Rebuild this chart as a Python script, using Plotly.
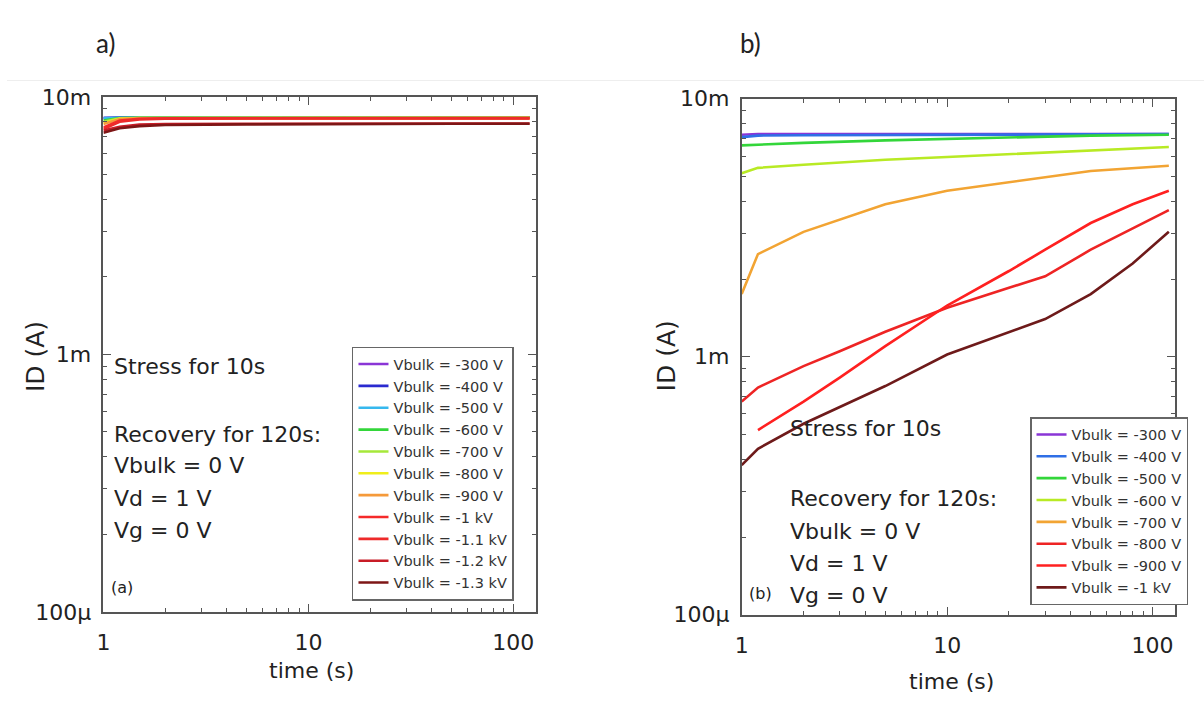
import plotly.graph_objects as go

W, H = 1204, 702
FONT = "DejaVu Sans"

# ---------------- panel (a): stress for 10 s, Vbulk from -300 V to -1.3 kV ----------------
labels_a = ["Vbulk = -300 V", "Vbulk = -400 V", "Vbulk = -500 V", "Vbulk = -600 V",
            "Vbulk = -700 V", "Vbulk = -800 V", "Vbulk = -900 V", "Vbulk = -1 kV",
            "Vbulk = -1.1 kV", "Vbulk = -1.2 kV", "Vbulk = -1.3 kV"]
colors_a = ["#8a35d6", "#2a2ad0", "#36b8ee", "#33d63a", "#a6e83a", "#f0ee1a",
            "#f59a3a", "#f52a2a", "#ee2a2a", "#c81c26", "#7e1616"]
time_a = [1, 1.2, 1.5, 2, 5, 10, 20, 50, 120]
# drain current in mA
id_a_300 = [8.30, 8.32, 8.32, 8.32, 8.32, 8.32, 8.32, 8.32, 8.32]
id_a_400 = [8.25, 8.31, 8.31, 8.31, 8.31, 8.31, 8.31, 8.31, 8.31]
id_a_500 = [8.28, 8.32, 8.32, 8.32, 8.32, 8.32, 8.32, 8.32, 8.32]
id_a_600 = [8.10, 8.28, 8.30, 8.30, 8.30, 8.30, 8.30, 8.30, 8.30]
id_a_700 = [8.00, 8.25, 8.28, 8.28, 8.29, 8.29, 8.29, 8.29, 8.29]
id_a_800 = [7.90, 8.22, 8.27, 8.28, 8.28, 8.28, 8.28, 8.28, 8.28]
id_a_900 = [7.85, 8.20, 8.26, 8.27, 8.28, 8.28, 8.28, 8.28, 8.28]
id_a_1000 = [7.60, 8.10, 8.22, 8.25, 8.26, 8.26, 8.27, 8.27, 8.27]
id_a_1100 = [7.50, 8.00, 8.18, 8.22, 8.24, 8.24, 8.25, 8.25, 8.25]
id_a_1200 = [7.40, 7.65, 7.80, 7.84, 7.86, 7.87, 7.87, 7.88, 7.88]
id_a_1300 = [7.25, 7.55, 7.70, 7.78, 7.82, 7.84, 7.85, 7.86, 7.86]
series_a = [id_a_300, id_a_400, id_a_500, id_a_600, id_a_700, id_a_800,
            id_a_900, id_a_1000, id_a_1100, id_a_1200, id_a_1300]

# ---------------- panel (b): Vbulk from -300 V to -1 kV ----------------
labels_b = ["Vbulk = -300 V", "Vbulk = -400 V", "Vbulk = -500 V", "Vbulk = -600 V",
            "Vbulk = -700 V", "Vbulk = -800 V", "Vbulk = -900 V", "Vbulk = -1 kV"]
colors_b = ["#8a35d6", "#2f6fe6", "#33d63a", "#b8ea24", "#f2a433", "#ee2424",
            "#ff2020", "#6e1a1a"]
time_b_300 = [1, 1.2, 2, 5, 10, 50, 120]
id_b_300 = [7.25, 7.30, 7.30, 7.30, 7.30, 7.30, 7.30]
time_b_400 = [1, 1.2, 2, 5, 10, 50, 120]
id_b_400 = [7.10, 7.20, 7.22, 7.25, 7.27, 7.28, 7.30]
time_b_500 = [1, 1.2, 2, 5, 10, 20, 50, 120]
id_b_500 = [6.60, 6.65, 6.75, 6.90, 7.00, 7.10, 7.20, 7.25]
time_b_600 = [1, 1.2, 2, 5, 10, 20, 50, 120]
id_b_600 = [5.15, 5.40, 5.55, 5.80, 5.95, 6.10, 6.30, 6.50]
time_b_700 = [1, 1.2, 2, 3, 5, 10, 20, 50, 120]
id_b_700 = [1.75, 2.50, 3.05, 3.40, 3.90, 4.40, 4.75, 5.25, 5.50]
time_b_800 = [1, 1.2, 2, 3, 5, 10, 20, 30, 50, 80, 120]
id_b_800 = [0.67, 0.76, 0.92, 1.05, 1.25, 1.55, 1.85, 2.05, 2.60, 3.15, 3.70]
time_b_900 = [1.2, 2, 3, 5, 10, 20, 30, 50, 80, 120]
id_b_900 = [0.52, 0.67, 0.83, 1.10, 1.58, 2.15, 2.60, 3.30, 3.90, 4.40]
time_b_1000 = [1, 1.2, 2, 3, 5, 10, 20, 30, 50, 80, 120]
id_b_1000 = [0.38, 0.44, 0.55, 0.64, 0.77, 1.02, 1.25, 1.40, 1.75, 2.30, 3.05]
times_b = [time_b_300, time_b_400, time_b_500, time_b_600, time_b_700,
           time_b_800, time_b_900, time_b_1000]
series_b = [id_b_300, id_b_400, id_b_500, id_b_600, id_b_700, id_b_800,
            id_b_900, id_b_1000]

y_ticks = [1e-4, 1e-3, 1e-2]
y_ticktext = ["100\u03bc", "1m", "10m"]
x_ticks = [1, 10, 100]
x_ticktext = ["1", "10", "100"]
x_minor = [2, 3, 4, 5, 6, 7, 8, 9, 20, 30, 40, 50, 60, 70, 80, 90]
y_minor = [k * 1e-4 for k in range(2, 10)] + [k * 1e-3 for k in range(2, 10)]

fig = go.Figure()

for name, col, vals in zip(labels_a, colors_a, series_a):
    fig.add_trace(go.Scatter(
        x=time_a, y=[v * 1e-3 for v in vals], mode="lines", name=name,
        line=dict(color=col, width=2.6), xaxis="x", yaxis="y", legend="legend"))

for name, col, tt, vals in zip(labels_b, colors_b, times_b, series_b):
    fig.add_trace(go.Scatter(
        x=tt, y=[v * 1e-3 for v in vals], mode="lines", name=name,
        line=dict(color=col, width=2.6), xaxis="x2", yaxis="y2", legend="legend2"))


def px_x(p):
    return p / W


def px_y(p):
    return 1 - p / H


# plot area boxes in pixels: (left, right, top, bottom)
box_a = (97, 532, 88, 622)
box_b = (739, 1175, 90, 625)

axis_common = dict(
    type="log", showline=True, linecolor="#555555", linewidth=1.6, mirror="ticks",
    ticks="inside", ticklen=8, tickwidth=1.3, tickcolor="#555555",
    showgrid=False, zeroline=False,
    tickfont=dict(family=FONT, size=22, color="#222222"),
)


def xaxis_cfg(anchor):
    return dict(axis_common, range=[0, 2.11], tickmode="array", tickvals=x_ticks,
                ticktext=x_ticktext, anchor=anchor, ticklabelstandoff=10,
                minor=dict(tickmode="array", tickvals=x_minor, ticks="inside",
                           ticklen=4, tickwidth=1.1, tickcolor="#555555"))


def yaxis_cfg(anchor):
    return dict(axis_common, range=[-4, -2], tickmode="array", tickvals=y_ticks,
                ticktext=y_ticktext, anchor=anchor, ticklabelstandoff=6,
                minor=dict(tickmode="array", tickvals=y_minor, ticks="inside",
                           ticklen=4, tickwidth=1.1, tickcolor="#555555"))


legend_common = dict(
    bgcolor="white", bordercolor="#666666", borderwidth=1.5,
    font=dict(family=FONT, size=14.5, color="#333333"),
    xanchor="left", yanchor="top", tracegroupgap=0, itemwidth=30,
)

fig.update_layout(
    width=W, height=H, margin=dict(l=0, r=0, t=0, b=0),
    paper_bgcolor="white", plot_bgcolor="white", showlegend=True,
    xaxis=dict(xaxis_cfg("y"), domain=[px_x(box_a[0]), px_x(box_a[1])]),
    yaxis=dict(yaxis_cfg("x"), domain=[px_y(box_a[3]), px_y(box_a[2])]),
    xaxis2=dict(xaxis_cfg("y2"), domain=[px_x(box_b[0]), px_x(box_b[1])]),
    yaxis2=dict(yaxis_cfg("x2"), domain=[px_y(box_b[3]), px_y(box_b[2])]),
    legend=dict(legend_common, x=px_x(347), y=px_y(347)),
    legend2=dict(legend_common, x=px_x(1029), y=px_y(420)),
)

annotations = []


def text(x, y, s, size=22, family=FONT, xanchor="left", angle=0):
    annotations.append(dict(
        x=px_x(x), y=px_y(y), xref="paper", yref="paper", text=s, showarrow=False,
        xanchor=xanchor, yanchor="middle", textangle=angle,
        font=dict(family=family, size=size, color="#222222")))


# panel letters above the plots
text(88, 32, "a)", size=26, family="Lato")
text(735, 32, "b)", size=26, family="Lato")

# axis titles
text(306, 683, "time (s)", xanchor="center")
text(950, 694, "time (s)", xanchor="center")
text(28, 357, "ID (A)", size=25, xanchor="center", angle=-90)
text(663, 357, "ID (A)", size=25, xanchor="center", angle=-90)

# measurement conditions, panel (a)
text(106, 368, "Stress for 10s")
text(106, 438, "Recovery for 120s:")
text(106, 470, "Vbulk = 0 V")
text(106, 504, "Vd = 1 V")
text(106, 538, "Vg = 0 V")
text(103, 597, "(a)", size=16)

# measurement conditions, panel (b)
text(786, 432, "Stress for 10s")
text(786, 504, "Recovery for 120s:")
text(786, 539, "Vbulk = 0 V")
text(786, 572, "Vd = 1 V")
text(786, 605, "Vg = 0 V")
text(744, 603, "(b)", size=16)

fig.update_layout(annotations=annotations)

# faint separator line across the top of the figure
fig.add_shape(type="line", xref="paper", yref="paper", x0=0, x1=1,
              y0=px_y(71), y1=px_y(71), line=dict(color="#eeeeee", width=1))

fig.write_html("out.html")
